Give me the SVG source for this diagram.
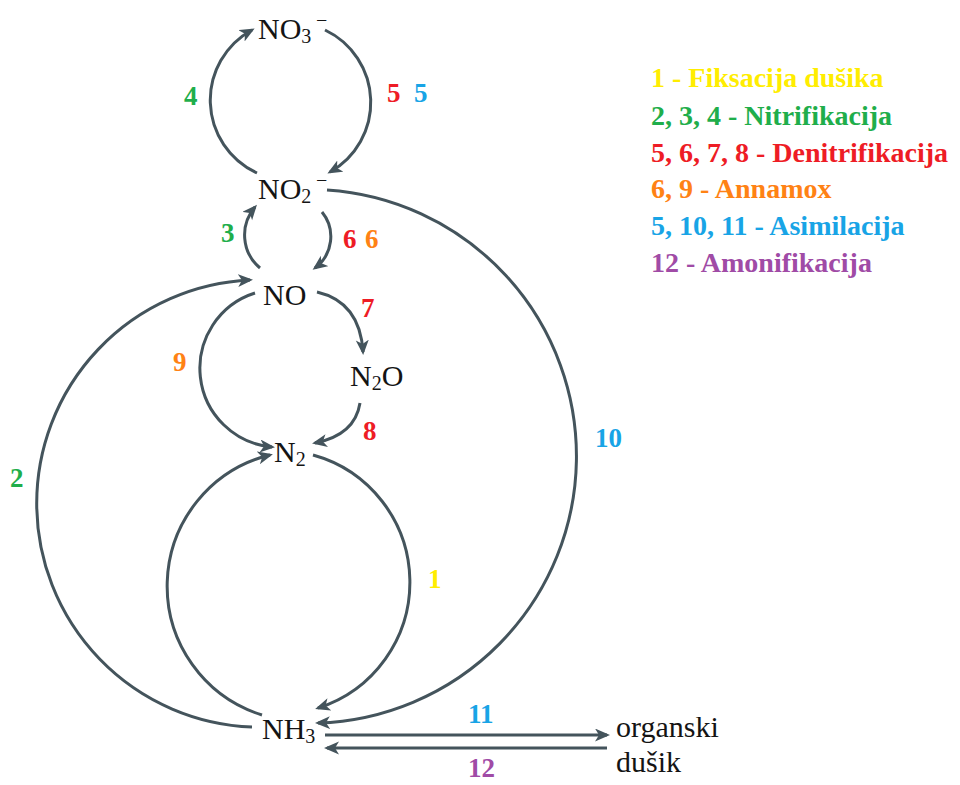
<svg xmlns="http://www.w3.org/2000/svg" width="960" height="785" viewBox="0 0 960 785">
<defs>
<marker id="ah" markerUnits="userSpaceOnUse" markerWidth="16" markerHeight="14" refX="12" refY="6.5" orient="auto">
<path d="M0,0 L15,6.5 L0,13 L4,6.5 z" fill="#44545c"/>
</marker>
<style>
.c{fill:none;stroke:#44545c;stroke-width:3;marker-end:url(#ah)}
text{font-family:'Liberation Serif','DejaVu Serif','Times New Roman',serif}
.n{font-size:30px;fill:#141414}
.s{font-size:20px}
.l{font-size:27px;font-weight:bold}
.g{font-size:28px;font-weight:bold}
.yel{fill:#ffed00}.grn{fill:#1fae4b}.red{fill:#ee1c25}.org{fill:#ff8214}.blu{fill:#18a4e6}.pur{fill:#a04ba6}
</style>
</defs>
<rect width="960" height="785" fill="#fff"/>
<g id="connectors">
<path class="c" d="M257,173 A80,80 0 0,1 252,30"/>
<path class="c" d="M325,30 A80,80 0 0,1 330,172"/>
<path class="c" d="M260,268 A43,43 0 0,1 255,207"/>
<path class="c" d="M322,212 A39,39 0 0,1 315,268"/>
<path class="c" d="M317,292 Q360,302 363,352"/>
<path class="c" d="M360,403 Q355,435 315,443"/>
<path class="c" d="M255,293 A79,79 0 0,0 272,447"/>
<path class="c" d="M313,455 A132,132 0 0,1 318,708"/>
<path class="c" d="M262,715 A135,135 0 0,1 270,455"/>
<path class="c" d="M252,727 A223.7,223.7 0 0,1 250,280"/>
<path class="c" d="M327,190 A266.85,266.85 0 0,1 318,723"/>
<path class="c" d="M325,735 L607,735"/>
<path class="c" d="M607,748 L327,748"/>
</g>
<g id="no3"><text class="n" font-family="Liberation Serif, serif" x="258" y="39">NO<tspan class="s" y="43">3</tspan><tspan class="s" x="316" y="27">−</tspan></text></g>
<g id="no2"><text class="n" font-family="Liberation Serif, serif" x="258" y="199">NO<tspan class="s" y="203">2</tspan><tspan class="s" x="316" y="187">−</tspan></text></g>
<g id="no"><text class="n" font-family="Liberation Serif, serif" x="263" y="305">NO</text></g>
<g id="n2o"><text class="n" font-family="Liberation Serif, serif" x="350" y="386">N<tspan class="s" y="390">2</tspan><tspan y="386">O</tspan></text></g>
<g id="n2"><text class="n" font-family="Liberation Serif, serif" x="274" y="462">N<tspan class="s" y="466">2</tspan></text></g>
<g id="nh3"><text class="n" font-family="Liberation Serif, serif" x="262" y="739">NH<tspan class="s" y="743">3</tspan></text></g>
<g id="organski"><text class="n" font-family="Liberation Serif, serif" x="616" y="737">organski</text><text class="n" font-family="Liberation Serif, serif" x="616" y="772">dušik</text></g>
<g id="labels" font-family="Liberation Serif, serif">
<text class="l grn" x="184" y="105">4</text>
<text class="l red" x="387" y="102">5</text>
<text class="l blu" x="414" y="102">5</text>
<text class="l grn" x="221" y="242">3</text>
<text class="l red" x="343" y="248">6</text>
<text class="l org" x="365" y="248">6</text>
<text class="l red" x="361" y="317">7</text>
<text class="l org" x="173" y="371">9</text>
<text class="l red" x="363" y="440">8</text>
<text class="l grn" x="10" y="487">2</text>
<text class="l blu" x="595" y="447">10</text>
<text class="l yel" x="428" y="588">1</text>
<text class="l blu" x="468" y="723">11</text>
<text class="l pur" x="468" y="777">12</text>
</g>
<g id="legend" font-family="Liberation Serif, serif">
<text class="g yel" x="651" y="87">1 - Fiksacija dušika</text>
<text class="g grn" x="651" y="125">2, 3, 4 - Nitrifikacija</text>
<text class="g red" x="651" y="162">5, 6, 7, 8 - Denitrifikacija</text>
<text class="g org" x="651" y="198">6, 9 - Annamox</text>
<text class="g blu" x="651" y="235">5, 10, 11 - Asimilacija</text>
<text class="g pur" x="651" y="272">12 - Amonifikacija</text>
</g>
</svg>
